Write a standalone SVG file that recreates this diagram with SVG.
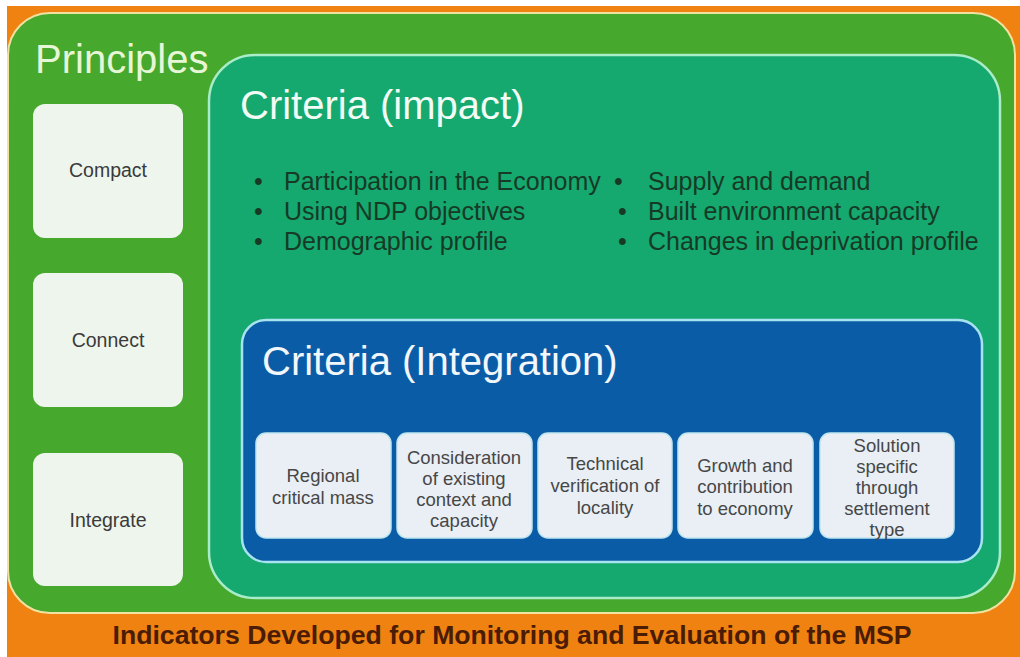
<svg xmlns="http://www.w3.org/2000/svg" width="1020" height="657" viewBox="0 0 1020 657">
  <style>
    .principle rect { fill: #eef5ec; }
    .principle text { font-family: "Liberation Sans", Arial, sans-serif; font-size: 19.5px; fill: #3a3a3a; text-anchor: middle; }
    .crit rect { fill: #e9eff5; stroke: #bfe6f0; stroke-width: 1.5; }
    .crit text { font-family: "Liberation Sans", Arial, sans-serif; font-size: 18.5px; fill: #474747; text-anchor: middle; }
    .title { font-family: "Liberation Sans", Arial, sans-serif; font-size: 40px; }
    .bullet { font-family: "Liberation Sans", Arial, sans-serif; font-size: 25px; fill: #173a26; }
  </style>

  <!-- background band -->
  <rect x="0" y="0" width="1020" height="657" fill="#ffffff"/>
  <rect x="7" y="6" width="1013" height="651" fill="#f08212"/>

  <!-- Principles container -->
  <g id="principles">
    <rect x="8" y="13" width="1007" height="600" rx="42" fill="#46a82d" stroke="#f0e2a0" stroke-width="2"/>
    <text class="title" x="35" y="73" fill="#e6f6d6">Principles</text>
  </g>

  <g id="compact" class="principle">
    <rect x="33" y="104" width="150" height="134" rx="12"/>
    <text x="108" y="177">Compact</text>
  </g>
  <g id="connect" class="principle">
    <rect x="33" y="273" width="150" height="134" rx="12"/>
    <text x="108" y="347">Connect</text>
  </g>
  <g id="integrate" class="principle">
    <rect x="33" y="453" width="150" height="133" rx="12"/>
    <text x="108" y="527">Integrate</text>
  </g>

  <!-- Criteria (impact) -->
  <g id="criteria-impact">
    <rect x="209" y="55" width="791" height="543" rx="46" fill="#15a86f" stroke="#a8ecc8" stroke-width="2.5"/>
    <text class="title" x="240" y="119" fill="#f2fbf4">Criteria (impact)</text>
    <g class="bullet">
      <text x="254" y="190">•</text>
      <text x="284" y="190">Participation in the Economy</text>
      <text x="254" y="220">•</text>
      <text x="284" y="220">Using NDP objectives</text>
      <text x="254" y="250">•</text>
      <text x="284" y="250">Demographic profile</text>
      <text x="614" y="190">•</text>
      <text x="648" y="190">Supply and demand</text>
      <text x="618" y="220">•</text>
      <text x="648" y="220">Built environment capacity</text>
      <text x="618" y="250">•</text>
      <text x="648" y="250">Changes in deprivation profile</text>
    </g>
  </g>

  <!-- Criteria (Integration) -->
  <g id="criteria-integration">
    <rect x="242" y="320" width="740" height="242" rx="24" fill="#0b5ca7" stroke="#a8e4f0" stroke-width="2.5"/>
    <text class="title" x="262" y="375" fill="#f2f7fc">Criteria (Integration)</text>
  </g>

  <g id="regional" class="crit">
    <rect x="256" y="433" width="135" height="105" rx="10"/>
    <text x="323" y="482">Regional</text>
    <text x="323" y="504">critical mass</text>
  </g>
  <g id="context" class="crit">
    <rect x="397" y="433" width="135" height="105" rx="10"/>
    <text x="464" y="464">Consideration</text>
    <text x="464" y="485">of existing</text>
    <text x="464" y="506">context and</text>
    <text x="464" y="527">capacity</text>
  </g>
  <g id="technical" class="crit">
    <rect x="538" y="433" width="134" height="105" rx="10"/>
    <text x="605" y="470">Technical</text>
    <text x="605" y="492">verification of</text>
    <text x="605" y="514">locality</text>
  </g>
  <g id="growth" class="crit">
    <rect x="678" y="433" width="135" height="105" rx="10"/>
    <text x="745" y="472">Growth and</text>
    <text x="745" y="493">contribution</text>
    <text x="745" y="515">to economy</text>
  </g>
  <g id="solution" class="crit">
    <rect x="820" y="433" width="134" height="105" rx="10"/>
    <text x="887" y="452">Solution</text>
    <text x="887" y="473">specific</text>
    <text x="887" y="494">through</text>
    <text x="887" y="515">settlement</text>
    <text x="887" y="536">type</text>
  </g>

  <!-- footer caption -->
  <g id="indicators">
    <text x="512" y="644" font-family="'Liberation Sans', Arial, sans-serif" font-size="25" font-weight="bold" fill="#4a1c04" text-anchor="middle" textLength="799" lengthAdjust="spacingAndGlyphs">Indicators Developed for Monitoring and Evaluation of the MSP</text>
  </g>
</svg>
